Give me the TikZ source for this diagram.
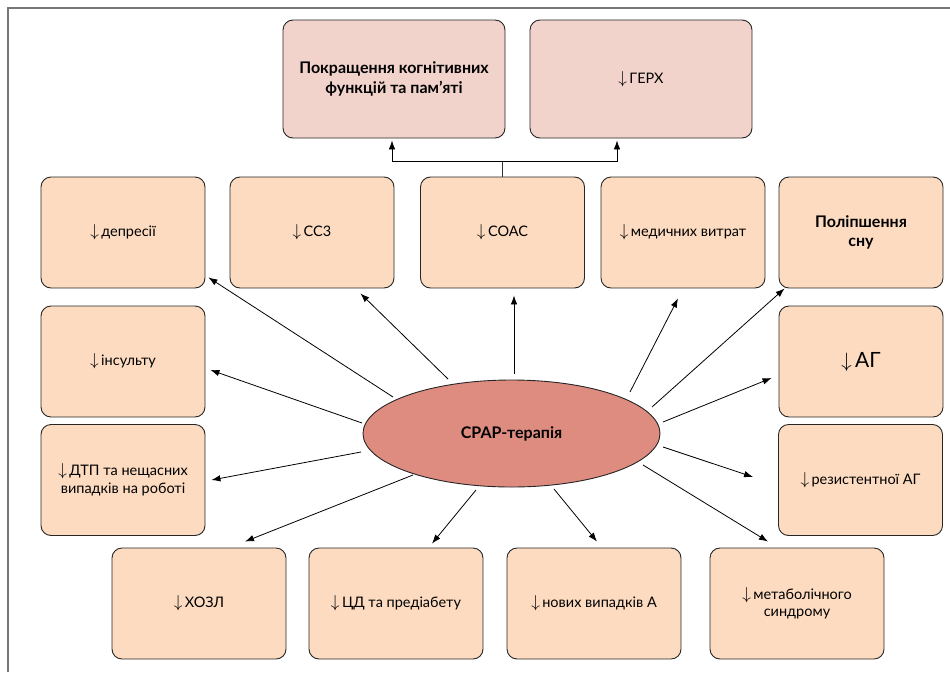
\documentclass[tikz,border=0pt]{standalone}
\usepackage{fontspec}
\setmainfont{Lato}
\usetikzlibrary{arrows.meta,calc,shapes.geometric}
\definecolor{peach}{HTML}{FCDBC0}
\definecolor{rosebox}{HTML}{F2D3CB}
\definecolor{cpapfill}{HTML}{DE8C80}
\definecolor{framegray}{HTML}{777777}
\tikzset{
  box/.style={draw=black!85, line width=0.9pt, rounded corners=10pt, fill=peach,
    align=center, inner sep=4pt, minimum width=164pt, minimum height=111pt,
    font=\fontsize{14.5}{17.5}\selectfont},
  boldtxt/.style={font=\bfseries\fontsize{16}{19.5}\selectfont},
  topbox/.style={box, fill=rosebox, minimum width=222pt, minimum height=118pt},
  botbox/.style={box, minimum width=174pt},
  arr/.style={draw=black, line width=0.8pt, -{Latex[length=9pt,width=6.5pt]}},
  plainline/.style={draw=black!80, line width=0.8pt}
}
\newcommand{\dn}{{\fontsize{17.5}{17.5}\selectfont$\downarrow$}\,}
\begin{document}
\begin{tikzpicture}[x=1pt,y=-1pt]
\useasboundingbox (0,0) rectangle (950,672);
\draw[framegray, line width=2pt] (8,672) -- (8,8) -- (950,8);

% top boxes
\node[topbox, boldtxt] (cog) at (394,79) {Покращення когнітивних\\функцій та пам’яті};
\node[topbox] (gerx) at (641,79) {\dn ГЕРХ};

% middle row
\node[box] (dep) at (123,232.5) {\dn депресії};
\node[box] (ccz) at (312,232.5) {\dn СС3};
\node[box] (soac) at (502.5,232.5) {\dn СОАС};
\node[box] (med) at (683,232.5) {\dn медичних витрат};
\node[box, boldtxt] (sleep) at (861,232.5) {Поліпшення\\сну};

% sides
\node[box] (ins) at (123,361.5) {\dn інсульту};
\node[box] (dtp) at (123,480) {\dn ДТП та нещасних\\випадків на роботі};
\node[box, font=\fontsize{21}{25}\selectfont] (ag) at (861,361.5) {$\downarrow$\,АГ};
\node[box] (rez) at (860.5,480) {\dn резистентної АГ};

% bottom row
\node[botbox] (hozl) at (199,603.5) {\dn ХОЗЛ};
\node[botbox] (cd) at (396,603.5) {\dn ЦД та предіабету};
\node[botbox] (nov) at (594,603.5) {\dn нових випадків А};
\node[botbox] (met) at (797,603.5) {\dn метаболічного\\синдрому};

% centre
\node[ellipse, draw=black!85, line width=0.9pt, fill=cpapfill, minimum width=297pt,
  minimum height=107pt, inner sep=0pt, boldtxt] (cpap) at (511.5,433.5) {CPAP-терапія};

% top connector
\coordinate (j) at ([shift={(0,-15)}]soac.north);
\draw[plainline] (soac.north) -- (j);
\draw[arr] (j) -| ([shift={(-2,2)}]cog.south);
\draw[arr] (j) -| ([shift={(-24,2)}]gerx.south);

% radial arrows
\draw[arr] ([shift={(-118.5,-36.5)}]cpap.center) -- ([shift={(3,-11)}]dep.south east);
\draw[arr] ([shift={(-63.5,-54.5)}]cpap.center) -- ([shift={(-34,5)}]ccz.south east);
\draw[arr] ([shift={(2.5,-59.5)}]cpap.center) -- ([shift={(11.5,7)}]soac.south);
\draw[arr] ([shift={(118.5,-41.5)}]cpap.center) -- ([shift={(-5,10)}]med.south);
\draw[arr] ([shift={(140.5,-26.5)}]cpap.center) -- ([shift={(6,0)}]sleep.south west);
\draw[arr] ([shift={(151.5,-11.5)}]cpap.center) -- ([shift={(-7,16.5)}]ag.west);
\draw[arr] ([shift={(151.5,13.5)}]cpap.center) -- ([shift={(-25,-3)}]rez.west);
\draw[arr] ([shift={(131.5,31.5)}]cpap.center) -- ([shift={(-29,-6)}]met.north);
\draw[arr] ([shift={(42.5,55.5)}]cpap.center) -- ([shift={(3,-6)}]nov.north);
\draw[arr] ([shift={(-35.5,56.5)}]cpap.center) -- ([shift={(36,-4)}]cd.north);
\draw[arr] ([shift={(-98.5,41.5)}]cpap.center) -- ([shift={(46,-6)}]hozl.north);
\draw[arr] ([shift={(-150.5,18.5)}]cpap.center) -- ([shift={(6,0)}]dtp.east);
\draw[arr] ([shift={(-149.5,-10.5)}]cpap.center) -- ([shift={(5,8.5)}]ins.east);
\end{tikzpicture}
\end{document}
